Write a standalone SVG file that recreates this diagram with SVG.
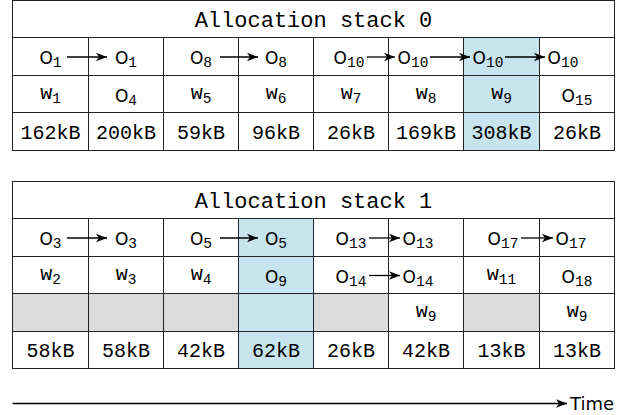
<svg xmlns="http://www.w3.org/2000/svg" width="623" height="415" viewBox="0 0 623 415">
<style>
.cell{fill:#fff;stroke:#222;stroke-width:1}
.hl{fill:#c8e4ee;stroke:#222;stroke-width:1}
.gr{fill:#dcdcdc;stroke:#222;stroke-width:1}
text{fill:#000;text-anchor:middle}
.t{font-family:"Liberation Mono",monospace;font-size:22px}
.k{font-family:"Liberation Mono",monospace;font-size:20px}
.o{font-family:"DejaVu Sans",sans-serif;font-size:17px}
.w{font-family:"Liberation Mono",monospace;font-size:20px}
.s{font-family:"Liberation Mono",monospace;font-size:14.5px}
.time{font-family:"DejaVu Sans",sans-serif;font-size:18px;text-anchor:start}
.arr{stroke:#000;stroke-width:1.3;fill:none;marker-end:url(#ah)}
</style>
<defs>
<marker id="ah" viewBox="-12 -5 12 10" refX="0" refY="0" markerWidth="12" markerHeight="10" markerUnits="userSpaceOnUse" orient="auto">
<path d="M0,0 L-11,-4.2 L-8,0 L-11,4.2 Z" fill="#000"/>
</marker>
</defs>

<g id="stack0">
<g id="s0-title"><rect class="cell" x="12.5" y="0.5" width="602" height="37"/><text class="t" x="313.5" y="26.5">Allocation stack 0</text></g>
<g id="s0-a0"><rect class="cell" x="12.5" y="37.5" width="76" height="38"/><text x="50.5" y="64"><tspan class="o">O</tspan><tspan class="s" dy="3">1</tspan></text></g>
<g id="s0-a1"><rect class="cell" x="88.5" y="37.5" width="75" height="38"/><text x="126" y="64"><tspan class="o">O</tspan><tspan class="s" dy="3">1</tspan></text></g>
<g id="s0-a2"><rect class="cell" x="163.5" y="37.5" width="75" height="38"/><text x="201" y="64"><tspan class="o">O</tspan><tspan class="s" dy="3">8</tspan></text></g>
<g id="s0-a3"><rect class="cell" x="238.5" y="37.5" width="75" height="38"/><text x="276" y="64"><tspan class="o">O</tspan><tspan class="s" dy="3">8</tspan></text></g>
<g id="s0-a4"><rect class="cell" x="313.5" y="37.5" width="75" height="38"/><text x="349" y="64"><tspan class="o">O</tspan><tspan class="s" dy="3">10</tspan></text></g>
<g id="s0-a5"><rect class="cell" x="388.5" y="37.5" width="75" height="38"/><text x="413" y="64"><tspan class="o">O</tspan><tspan class="s" dy="3">10</tspan></text></g>
<g id="s0-a6"><rect class="hl" x="463.5" y="37.5" width="76" height="38"/><text x="488" y="64"><tspan class="o">O</tspan><tspan class="s" dy="3">10</tspan></text></g>
<g id="s0-a7"><rect class="cell" x="539.5" y="37.5" width="75" height="38"/><text x="563" y="64"><tspan class="o">O</tspan><tspan class="s" dy="3">10</tspan></text></g>

<g id="s0-b0"><rect class="cell" x="12.5" y="75.5" width="76" height="37"/><text x="50.5" y="98.5"><tspan class="w">w</tspan><tspan class="s" dy="4">1</tspan></text></g>
<g id="s0-b1"><rect class="cell" x="88.5" y="75.5" width="75" height="37"/><text x="126" y="101.5"><tspan class="o">O</tspan><tspan class="s" dy="3">4</tspan></text></g>
<g id="s0-b2"><rect class="cell" x="163.5" y="75.5" width="75" height="37"/><text x="201" y="98.5"><tspan class="w">w</tspan><tspan class="s" dy="4">5</tspan></text></g>
<g id="s0-b3"><rect class="cell" x="238.5" y="75.5" width="75" height="37"/><text x="276" y="98.5"><tspan class="w">w</tspan><tspan class="s" dy="4">6</tspan></text></g>
<g id="s0-b4"><rect class="cell" x="313.5" y="75.5" width="75" height="37"/><text x="351" y="98.5"><tspan class="w">w</tspan><tspan class="s" dy="4">7</tspan></text></g>
<g id="s0-b5"><rect class="cell" x="388.5" y="75.5" width="75" height="37"/><text x="426" y="98.5"><tspan class="w">w</tspan><tspan class="s" dy="4">8</tspan></text></g>
<g id="s0-b6"><rect class="hl" x="463.5" y="75.5" width="76" height="37"/><text x="501.5" y="98.5"><tspan class="w">w</tspan><tspan class="s" dy="4">9</tspan></text></g>
<g id="s0-b7"><rect class="cell" x="539.5" y="75.5" width="75" height="37"/><text x="577" y="101.5"><tspan class="o">O</tspan><tspan class="s" dy="3">15</tspan></text></g>

<g id="s0-c0"><rect class="cell" x="12.5" y="112.5" width="76" height="38"/><text class="k" x="50.5" y="138.5">162kB</text></g>
<g id="s0-c1"><rect class="cell" x="88.5" y="112.5" width="75" height="38"/><text class="k" x="126" y="138.5">200kB</text></g>
<g id="s0-c2"><rect class="cell" x="163.5" y="112.5" width="75" height="38"/><text class="k" x="201" y="138.5">59kB</text></g>
<g id="s0-c3"><rect class="cell" x="238.5" y="112.5" width="75" height="38"/><text class="k" x="276" y="138.5">96kB</text></g>
<g id="s0-c4"><rect class="cell" x="313.5" y="112.5" width="75" height="38"/><text class="k" x="351" y="138.5">26kB</text></g>
<g id="s0-c5"><rect class="cell" x="388.5" y="112.5" width="75" height="38"/><text class="k" x="426" y="138.5">169kB</text></g>
<g id="s0-c6"><rect class="hl" x="463.5" y="112.5" width="76" height="38"/><text class="k" x="501.5" y="138.5">308kB</text></g>
<g id="s0-c7"><rect class="cell" x="539.5" y="112.5" width="75" height="38"/><text class="k" x="577" y="138.5">26kB</text></g>
</g>

<g id="stack1">
<g id="s1-title"><rect class="cell" x="12.5" y="181.5" width="602" height="37"/><text class="t" x="313.5" y="207.5">Allocation stack 1</text></g>
<g id="s1-a0"><rect class="cell" x="12.5" y="218.5" width="76" height="38"/><text x="50.5" y="245"><tspan class="o">O</tspan><tspan class="s" dy="3">3</tspan></text></g>
<g id="s1-a1"><rect class="cell" x="88.5" y="218.5" width="75" height="38"/><text x="126" y="245"><tspan class="o">O</tspan><tspan class="s" dy="3">3</tspan></text></g>
<g id="s1-a2"><rect class="cell" x="163.5" y="218.5" width="75" height="38"/><text x="201" y="245"><tspan class="o">O</tspan><tspan class="s" dy="3">5</tspan></text></g>
<g id="s1-a3"><rect class="hl" x="238.5" y="218.5" width="75" height="38"/><text x="276" y="245"><tspan class="o">O</tspan><tspan class="s" dy="3">5</tspan></text></g>
<g id="s1-a4"><rect class="cell" x="313.5" y="218.5" width="75" height="38"/><text x="351" y="245"><tspan class="o">O</tspan><tspan class="s" dy="3">13</tspan></text></g>
<g id="s1-a5"><rect class="cell" x="388.5" y="218.5" width="75" height="38"/><text x="418" y="245"><tspan class="o">O</tspan><tspan class="s" dy="3">13</tspan></text></g>
<g id="s1-a6"><rect class="cell" x="463.5" y="218.5" width="76" height="38"/><text x="503" y="245"><tspan class="o">O</tspan><tspan class="s" dy="3">17</tspan></text></g>
<g id="s1-a7"><rect class="cell" x="539.5" y="218.5" width="75" height="38"/><text x="571" y="245"><tspan class="o">O</tspan><tspan class="s" dy="3">17</tspan></text></g>

<g id="s1-b0"><rect class="cell" x="12.5" y="256.5" width="76" height="37"/><text x="50.5" y="279.5"><tspan class="w">w</tspan><tspan class="s" dy="4">2</tspan></text></g>
<g id="s1-b1"><rect class="cell" x="88.5" y="256.5" width="75" height="37"/><text x="126" y="279.5"><tspan class="w">w</tspan><tspan class="s" dy="4">3</tspan></text></g>
<g id="s1-b2"><rect class="cell" x="163.5" y="256.5" width="75" height="37"/><text x="201" y="279.5"><tspan class="w">w</tspan><tspan class="s" dy="4">4</tspan></text></g>
<g id="s1-b3"><rect class="hl" x="238.5" y="256.5" width="75" height="37"/><text x="276" y="282.5"><tspan class="o">O</tspan><tspan class="s" dy="3">9</tspan></text></g>
<g id="s1-b4"><rect class="cell" x="313.5" y="256.5" width="75" height="37"/><text x="351" y="282.5"><tspan class="o">O</tspan><tspan class="s" dy="3">14</tspan></text></g>
<g id="s1-b5"><rect class="cell" x="388.5" y="256.5" width="75" height="37"/><text x="418" y="282.5"><tspan class="o">O</tspan><tspan class="s" dy="3">14</tspan></text></g>
<g id="s1-b6"><rect class="cell" x="463.5" y="256.5" width="76" height="37"/><text x="501.5" y="279.5"><tspan class="w">w</tspan><tspan class="s" dy="4">11</tspan></text></g>
<g id="s1-b7"><rect class="cell" x="539.5" y="256.5" width="75" height="37"/><text x="577" y="282.5"><tspan class="o">O</tspan><tspan class="s" dy="3">18</tspan></text></g>

<g id="s1-c0"><rect class="gr" x="12.5" y="293.5" width="76" height="38"/></g>
<g id="s1-c1"><rect class="gr" x="88.5" y="293.5" width="75" height="38"/></g>
<g id="s1-c2"><rect class="gr" x="163.5" y="293.5" width="75" height="38"/></g>
<g id="s1-c3"><rect class="hl" x="238.5" y="293.5" width="75" height="38"/></g>
<g id="s1-c4"><rect class="gr" x="313.5" y="293.5" width="75" height="38"/></g>
<g id="s1-c5"><rect class="cell" x="388.5" y="293.5" width="75" height="38"/><text x="426" y="317"><tspan class="w">w</tspan><tspan class="s" dy="4">9</tspan></text></g>
<g id="s1-c6"><rect class="gr" x="463.5" y="293.5" width="76" height="38"/></g>
<g id="s1-c7"><rect class="cell" x="539.5" y="293.5" width="75" height="38"/><text x="577" y="317"><tspan class="w">w</tspan><tspan class="s" dy="4">9</tspan></text></g>

<g id="s1-d0"><rect class="cell" x="12.5" y="331.5" width="76" height="37"/><text class="k" x="50.5" y="357">58kB</text></g>
<g id="s1-d1"><rect class="cell" x="88.5" y="331.5" width="75" height="37"/><text class="k" x="126" y="357">58kB</text></g>
<g id="s1-d2"><rect class="cell" x="163.5" y="331.5" width="75" height="37"/><text class="k" x="201" y="357">42kB</text></g>
<g id="s1-d3"><rect class="hl" x="238.5" y="331.5" width="75" height="37"/><text class="k" x="276" y="357">62kB</text></g>
<g id="s1-d4"><rect class="cell" x="313.5" y="331.5" width="75" height="37"/><text class="k" x="351" y="357">26kB</text></g>
<g id="s1-d5"><rect class="cell" x="388.5" y="331.5" width="75" height="37"/><text class="k" x="426" y="357">42kB</text></g>
<g id="s1-d6"><rect class="cell" x="463.5" y="331.5" width="76" height="37"/><text class="k" x="501.5" y="357">13kB</text></g>
<g id="s1-d7"><rect class="cell" x="539.5" y="331.5" width="75" height="37"/><text class="k" x="577" y="357">13kB</text></g>
</g>

<g id="connectors">
<line class="arr" x1="67" y1="57" x2="107" y2="57"/>
<line class="arr" x1="220" y1="57" x2="258" y2="57"/>
<line class="arr" x1="367" y1="57" x2="395" y2="57"/>
<line class="arr" x1="430" y1="57" x2="470" y2="57"/>
<line class="arr" x1="505" y1="57" x2="545" y2="57"/>
<line class="arr" x1="67" y1="238" x2="107" y2="238"/>
<line class="arr" x1="220" y1="238" x2="258" y2="238"/>
<line class="arr" x1="369" y1="238" x2="400" y2="238"/>
<line class="arr" x1="521" y1="238" x2="553" y2="238"/>
<line class="arr" x1="369" y1="275.5" x2="400" y2="275.5"/>
<line class="arr" x1="12.5" y1="403.5" x2="567" y2="403.5" style="stroke-width:1.5"/>
</g>
<text class="time" x="570" y="409.5">Time</text>
</svg>
